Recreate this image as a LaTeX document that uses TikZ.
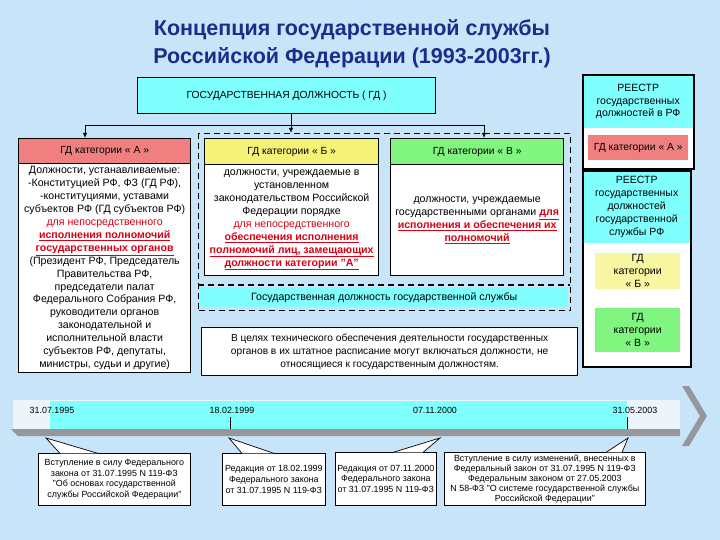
\documentclass[tikz,border=0pt]{standalone}
\usepackage{fontspec}
\setmainfont{Liberation Sans}
\usetikzlibrary{arrows.meta,calc}
\definecolor{bg}{RGB}{200,228,248}
\definecolor{titleblue}{RGB}{25,45,140}
\definecolor{cyanf}{RGB}{128,255,255}
\definecolor{salmonf}{RGB}{240,128,128}
\definecolor{yellowf}{RGB}{245,242,120}
\definecolor{greenf}{RGB}{128,245,128}
\definecolor{redt}{RGB}{215,0,20}
\definecolor{bandlight}{RGB}{236,245,252}
\definecolor{bandgray}{RGB}{150,150,155}
\newcommand{\rtx}[1]{\textcolor{redt}{#1}}
\newcommand{\rtu}[1]{\textcolor{redt}{\bfseries\underline{#1}}}
\newcommand{\sq}{\char34\relax}
\tikzset{
  rect/.style={anchor=north west, inner sep=0pt, align=center},
  thick box/.style={rect, draw=black, line width=1.3pt},
  hdrtext/.style={font=\fontsize{10.3}{12}\selectfont},
  bodytext/.style={font=\fontsize{10.6}{12.9}\selectfont},
  smallbox/.style={rect, draw=black, line width=0.7pt, fill=white, font=\fontsize{8.9}{10.8}\selectfont},
  pointer/.style={draw=black, line width=0.7pt, fill=white},
  conn/.style={draw=black, line width=0.9pt},
  arr/.style={conn, -{Latex[length=5pt,width=4.5pt]}},
  dlabel/.style={font=\fontsize{8.9}{10}\selectfont},
  tick/.style={draw=black, line width=0.6pt},
  regtext/.style={font=\fontsize{10.5}{13}\selectfont}
}
\begin{document}
\begin{tikzpicture}[x=1pt,y=-1pt]
\useasboundingbox (0,0) rectangle (720,540);
\fill[bg] (0,0) rectangle (720,540);

% title
\node[align=center, text=titleblue, font=\bfseries\fontsize{21.5}{28}\selectfont] (title) at (352,44)
  {Концепция государственной службы\\Российской Федерации (1993-2003гг.)};

% top box
\node[thick box, fill=cyanf, minimum width=298, minimum height=36, hdrtext] (gd) at (137,77)
  {ГОСУДАРСТВЕННАЯ ДОЛЖНОСТЬ ( ГД )};

% dashed frame
\node[rect, draw=black, line width=1.1pt, dash pattern=on 6pt off 4pt, minimum width=372, minimum height=177] (dframe) at (198,133) {};
\coordinate (dl) at (198,285);
\coordinate (dr) at (570,285);
\draw[line width=1.1pt, dash pattern=on 6pt off 4pt] (dl) -- (dr);

% category A
\node[thick box, fill=salmonf, minimum width=172, minimum height=25, hdrtext] (ahdr) at (18,138) {ГД категории « А »};
\node[thick box, fill=white, minimum width=172, minimum height=209, bodytext] (abody) at (18,163)
  {Должности, устанавливаемые:\\
   -Конституцией РФ, ФЗ (ГД РФ),\\
   -конституциями, уставами\\
   субъектов РФ (ГД субъектов РФ)\\
   \rtx{для непосредственного}\\
   \rtu{исполнения полномочий}\\
   \rtu{государственных органов}\\
   (Президент РФ, Председатель\\
   Правительства РФ,\\
   председатели палат\\
   Федерального Собрания РФ,\\
   руководители органов\\
   законодательной и\\
   исполнительной власти\\
   субъектов РФ, депутаты,\\
   министры, судьи и другие)};

% category B
\node[thick box, fill=yellowf, minimum width=174, minimum height=26, hdrtext] (bhdr) at (204,138) {ГД категории « Б »};
\node[thick box, fill=white, minimum width=174, minimum height=111, bodytext] (bbody) at (204,164)
  {должности, учреждаемые в\\
   установленном\\
   законодательством Российской\\
   Федерации порядке\\
   \rtx{для непосредственного}\\
   \rtu{обеспечения исполнения}\\
   \rtu{полномочий лиц, замещающих}\\
   \rtu{должности категории \sq А\sq}};

% category V
\node[thick box, fill=greenf, minimum width=173, minimum height=26, hdrtext] (vhdr) at (390,138) {ГД категории « В »};
\node[thick box, fill=white, minimum width=173, minimum height=111, bodytext] (vbody) at (390,164)
  {должности, учреждаемые\\
   государственными органами \rtu{для}\\
   \rtu{исполнения и обеспечения их}\\
   \rtu{полномочий}};

% civil service bar
\node[rect, fill=cyanf, minimum width=368, minimum height=20, bodytext] (gsbar) at (200,287)
  {Государственная должность государственной службы};

% technical note box
\node[thick box, fill=white, minimum width=376, minimum height=48, font=\fontsize{10.2}{13}\selectfont] (tech) at (201,327)
  {В целях технического обеспечения деятельности государственных\\
   органов в их штатное расписание могут включаться должности, не\\
   относящиеся к государственным должностям.};

% connectors at top
\coordinate (hub) at (291,125);
\coordinate (hl) at (85,125);
\coordinate (hr) at (484,125);
\draw[conn] (gd.south -| hub) -- (hub);
\draw[conn] (hl) -- (hr);
\draw[arr] (hl) -- (hl |- ahdr.north);
\draw[arr] (hub) -- (hub |- dframe.north);
\draw[arr] (hr) -- (hr |- vhdr.north);

% right column: register 1
\node[thick box, fill=white, minimum width=110, minimum height=93] (reg1) at (583,75) {};
\node[rect, fill=cyanf, minimum width=108.7, minimum height=52, regtext, font=\fontsize{10.5}{12.5}\selectfont] (reg1h) at (583.65,75.65)
  {РЕЕСТР\\государственных\\должностей в РФ};
\node[rect, fill=salmonf, minimum width=100, minimum height=25, font=\fontsize{10.3}{12}\selectfont] (rega) at (588,135) {ГД категории « А »};
\draw[line width=1.3pt] (reg1.north west) rectangle (reg1.south east);

% right column: register 2
\node[thick box, fill=white, minimum width=107, minimum height=195] (reg2) at (583,171) {};
\node[rect, fill=cyanf, minimum width=105.7, minimum height=71, regtext] (reg2h) at (583.65,171.65)
  {РЕЕСТР\\государственных\\должностей\\государственной\\службы РФ};
\node[rect, fill=yellowf!70!white, minimum width=85, minimum height=36, regtext] (regb) at (595,253)
  {ГД\\категории\\« Б »};
\node[rect, fill=greenf, minimum width=85, minimum height=44, regtext] (regv) at (595,308)
  {ГД\\категории\\« В »};
\draw[line width=1.3pt] (reg2.north west) rectangle (reg2.south east);

% timeline
\fill[bandlight] (13,400) rectangle (680,430);
\fill[cyanf] (50,401) rectangle (627,429);
\fill[bandgray] (11,429) -- (680,429) -- (680,436) -- (18,436) -- cycle;
\fill[bandgray] (682,386) -- (689,386) -- (707,416) -- (689,446) -- (682,446) -- (700,416) -- cycle;
\node[dlabel] (d1) at (52,410) {31.07.1995};
\node[dlabel] (d2) at (232,410) {18.02.1999};
\node[dlabel] (d3) at (435,410) {07.11.2000};
\node[dlabel] (d4) at (635,410) {31.05.2003};
\draw[tick] (230,417) -- (230,429);
\draw[tick] (627,417) -- (627,429);

% callout apexes
\coordinate (p1) at (46,438);
\coordinate (p2) at (229,438);
\coordinate (p3) at (440,438);
\coordinate (p4) at (628,438);

% callout boxes
\node[smallbox, minimum width=152, minimum height=52] (c1) at (38,453)
  {Вступление в силу Федерального\\закона от 31.07.1995 N 119-ФЗ\\\sq Об основах государственной\\службы Российской Федерации\sq};
\node[smallbox, minimum width=103, minimum height=52] (c2) at (222,453)
  {Редакция от 18.02.1999\\Федерального закона\\от 31.07.1995 N 119-ФЗ};
\node[smallbox, minimum width=101, minimum height=53] (c3) at (335,452)
  {Редакция от 07.11.2000\\Федерального закона\\от 31.07.1995 N 119-ФЗ};
\node[smallbox, minimum width=201, minimum height=53, font=\fontsize{8.9}{10}\selectfont] (c4) at (444,452)
  {Вступление в силу изменений, внесенных в\\Федеральный закон от 31.07.1995 N 119-ФЗ\\Федеральным законом от 27.05.2003\\N 58-ФЗ \sq О системе государственной службы\\Российской Федерации\sq};

% pointers
\path[pointer] ($(c1.north west)+(22,0.4)$) -- (p1) -- ($(c1.north west)+(60,0.4)$);
\path[pointer] ($(c2.north west)+(20,0.4)$) -- (p2) -- ($(c2.north west)+(52,0.4)$);
\path[pointer] ($(c3.north west)+(58,0.4)$) -- (p3) -- ($(c3.north west)+(88,0.4)$);
\path[pointer] ($(c4.north west)+(162,0.4)$) -- (p4) -- ($(c4.north west)+(178,0.4)$);
\end{tikzpicture}
\end{document}
